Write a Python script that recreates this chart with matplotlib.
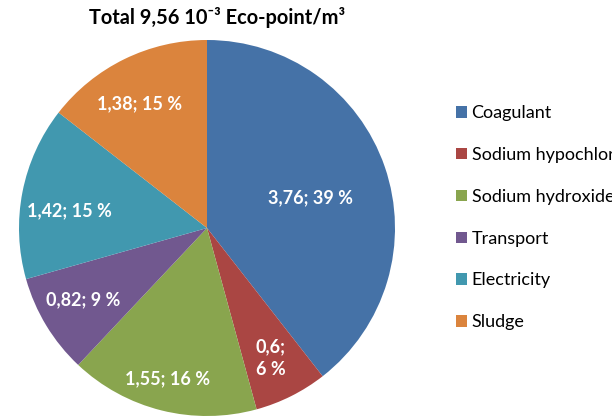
import matplotlib
matplotlib.use('Agg')
import matplotlib.pyplot as plt
from matplotlib.patches import Patch

categories = ['Coagulant', 'Sodium hypochlorite', 'Sodium hydroxide',
              'Transport', 'Electricity', 'Sludge']
values = [3.76, 0.6, 1.55, 0.82, 1.42, 1.38]
percents = [39, 6, 16, 9, 15, 15]
colors = ['#4572A7', '#AA4643', '#89A54E', '#71588F', '#4198AF', '#DB843D']

# label anchor points (axes data units, pie radius = 1)
label_pos = [(0.55, 0.16), (0.34, -0.69), (-0.21, -0.80),
             (-0.66, -0.38), (-0.73, 0.09), (-0.36, 0.66)]

plt.rcParams['font.family'] = ['Lato', 'DejaVu Sans']

fig = plt.figure(figsize=(6.12, 4.18), dpi=100)
ax = fig.add_axes([19 / 612, 2 / 418, 376 / 612, 376 / 418])
ax.pie(values, colors=colors, startangle=90, counterclock=False, radius=1,
       wedgeprops=dict(linewidth=0))
ax.set_xlim(-1, 1); ax.set_ylim(-1, 1); ax.set_aspect('auto'); ax.axis('off')

for i, (v, p) in enumerate(zip(values, percents)):
    vs = f'{v:g}'.replace('.', ',')
    txt = f'{vs};\n{p} %' if p < 7 else f'{vs}; {p} %'
    ax.text(*label_pos[i], txt, ha='center', va='center', color='white',
            fontsize=13, fontweight='bold', linespacing=1.4)

fig.text(217 / 612, 1 - 17 / 418, 'Total 9,56 10\u207b\u00b3 Eco-point/m\u00b3',
         ha='center', va='center', fontsize=14.4, fontweight='bold')

# legend runs past the right edge on purpose (clipped like the original)
handles = [Patch(facecolor=c, edgecolor='none') for c in colors]
fig.legend(handles, categories, loc='upper left',
           bbox_to_anchor=(449 / 612, 1 - 98 / 418), frameon=False,
           fontsize=13, handlelength=0.6, handleheight=0.6,
           handletextpad=0.25, labelspacing=1.43, borderaxespad=0)

plt.savefig('out.png', dpi=100)
plt.close()
